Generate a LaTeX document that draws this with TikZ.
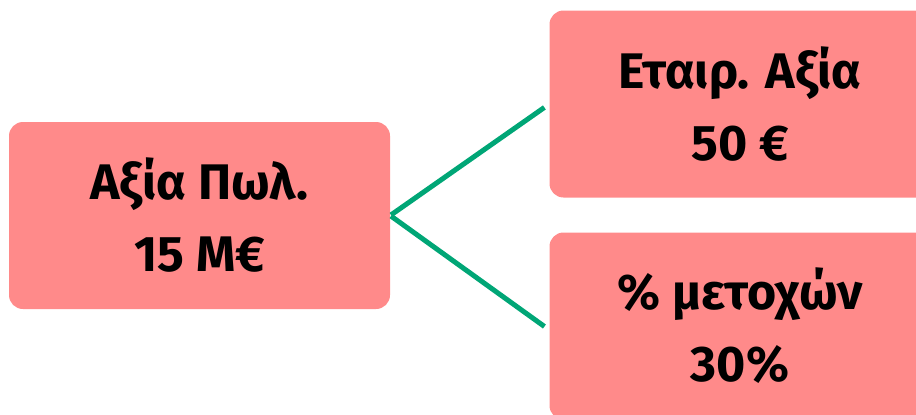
\documentclass[tikz,border=0pt]{standalone}
\usepackage{fontspec}
\setmainfont{Fira Sans}
\definecolor{boxpink}{HTML}{FF8A8A}
\definecolor{linkgreen}{HTML}{00A676}
\begin{document}
\begin{tikzpicture}[x=1pt,y=-1pt,
  valuebox/.style={fill=boxpink, rounded corners=14pt, minimum width=381pt,
    minimum height=187pt, align=center, inner sep=0pt,
    font=\bfseries\fontsize{50}{72}\selectfont},
  link/.style={draw=linkgreen, line width=5pt}]
  \useasboundingbox (0,0) rectangle (916,415);
  \clip (0,0) rectangle (916,415);
  % left: sale value
  \node[valuebox] (sale) at (199.5,215.5) {Αξία Πωλ.\\15 Μ€};
  % right: nominal value and share percentage
  \node[valuebox] (nominal) at (740,104) {Εταιρ. Αξία\\50 €};
  \node[valuebox] (share) at (740,326) {\% μετοχών\\30\%};
  % connectors
  \draw[link, shorten <=1pt, shorten >=6pt] (sale.east) -- (nominal.west);
  \draw[link, shorten <=1pt, shorten >=6pt] (sale.east) -- ([yshift=-4pt]share.west);
\end{tikzpicture}
\end{document}
